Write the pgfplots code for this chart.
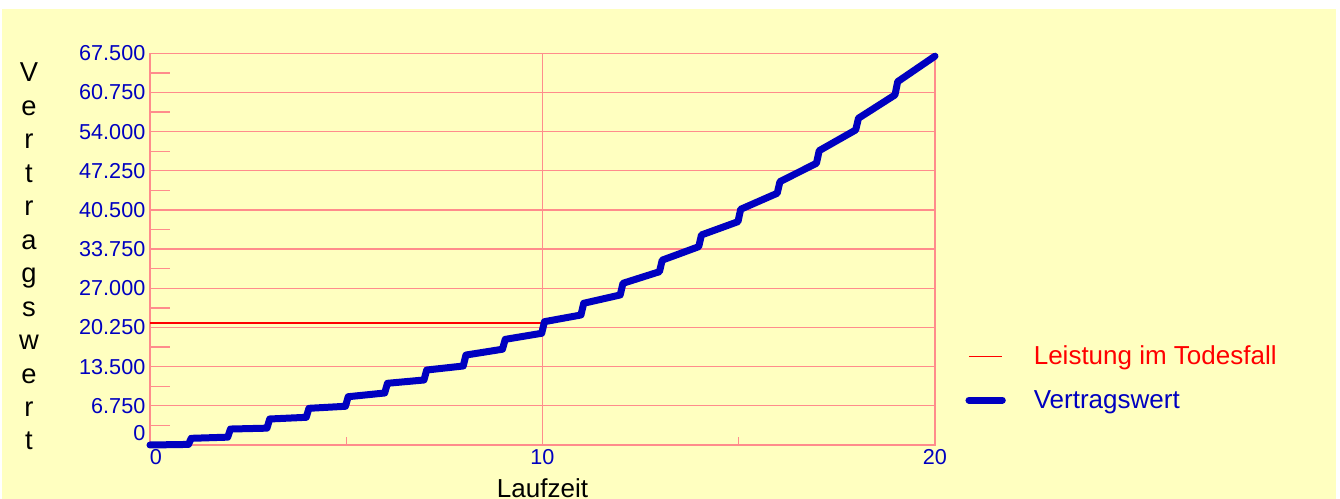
\documentclass[border=0pt]{standalone}
\usepackage{pgfplots}
\pgfplotsset{compat=1.18}
\usepackage{fontspec}
\setmainfont{Liberation Sans}
\definecolor{bg}{HTML}{FFFFC0}
\definecolor{gridc}{HTML}{FF8C8C}
\definecolor{bl}{HTML}{0000C0}
\definecolor{rd}{HTML}{FF0000}
\begin{document}
\begin{tikzpicture}
\fill[white] (-112.5pt,-40.5pt) rectangle (892.5pt,333.75pt);
\fill[bg] (-111pt,-40.5pt) rectangle (889.5pt,327pt);
\begin{axis}[
  at={(0pt,0pt)}, anchor=south west,
  width=588.75pt, height=293.8pt, scale only axis,
  xmin=0, xmax=20, ymin=0, ymax=67500,
  scaled y ticks=false, scaled x ticks=false,
  axis line style={gridc, line width=1pt},
  xtick={0,10,20}, xticklabels={\hspace*{9pt}0,10,20},
  ytick={6750,13500,20250,27000,33750,40500,47250,54000,60750,67500},
  yticklabels={6.750,13.500,20.250,27.000,33.750,40.500,47.250,54.000,60.750,67.500},
  minor ytick={3375,10125,16875,23625,30375,37125,43875,50625,57375,64125},
  extra y ticks={0}, extra y tick labels={0},
  extra y tick style={yticklabel style={yshift=9pt}},
  extra x ticks={5,15}, extra x tick labels={,},
  extra x tick style={grid=none, major tick length=6pt},
  grid=major, major grid style={gridc, line width=1pt},
  minor tick length=15pt, major tick length=0pt,
  tick align=inside, ytick pos=left, xtick pos=bottom,
  tick style={gridc, line width=1pt},
  ticklabel style={font=\fontsize{16.2}{18}\selectfont, text=bl},
  xlabel={Laufzeit},
  xlabel style={at={(axis description cs:0.5,0)}, anchor=base, inner sep=0pt, yshift=-39.6pt, font=\fontsize{19.5}{23}\selectfont},
  clip=false,
  legend style={draw=none, fill=none, inner sep=0pt, at={(1.0385,0.171)}, anchor=west,
    font=\fontsize{19.5}{23}\selectfont, row sep=17.5pt,
    nodes={inner sep=0pt},
    /tikz/every odd column/.append style={column sep=21pt}},
  legend cell align=left,
  legend image code/.code={\draw[#1] (0pt,0pt) -- (25pt,0pt);},
]
\addplot[draw=rd, line width=1.1pt] coordinates {(0,21000) (10,21000)};
\addlegendentry{\textcolor{red}{Leistung im Todesfall}}
\addplot[draw=bl, line width=5.25pt, line cap=round, line join=round] coordinates {
(0,0) (0.98,100) (1.05,1150) (1.98,1350) (2.05,2750) (2.98,2900)
(3.05,4480) (3.98,4770) (4.05,6320) (4.98,6670) (5.05,8320) (5.98,8960)
(6.05,10630) (6.98,11200) (7.05,12920) (7.98,13610) (8.05,15500) (8.98,16500)
(9.05,18200) (9.98,19250) (10.05,21250) (10.98,22400) (11.05,24420) (11.98,25850)
(12.05,27860) (12.98,29860) (13.05,31850) (13.98,34170) (14.05,36190) (14.98,38480)
(15.05,40620) (15.98,43375) (16.05,45375) (16.98,48545) (17.05,50715) (17.98,54285)
(18.05,56300) (18.98,60315) (19.05,62610) (20,67000)
};
\addlegendentry{\textcolor{bl}{Vertragswert}}
\end{axis}
\foreach \l [count=\i from 0] in {V,e,r,t,r,a,g,s,w,e,r,t}
  \node[anchor=base, font=\fontsize{20.5}{23}\selectfont, inner sep=0pt] at (-90.75pt,{272.25pt-25.09pt*\i}) {\l};
\pgfresetboundingbox
\useasboundingbox (-112.5pt,-40.5pt) rectangle (892.5pt,333.75pt);
\end{tikzpicture}
\end{document}
